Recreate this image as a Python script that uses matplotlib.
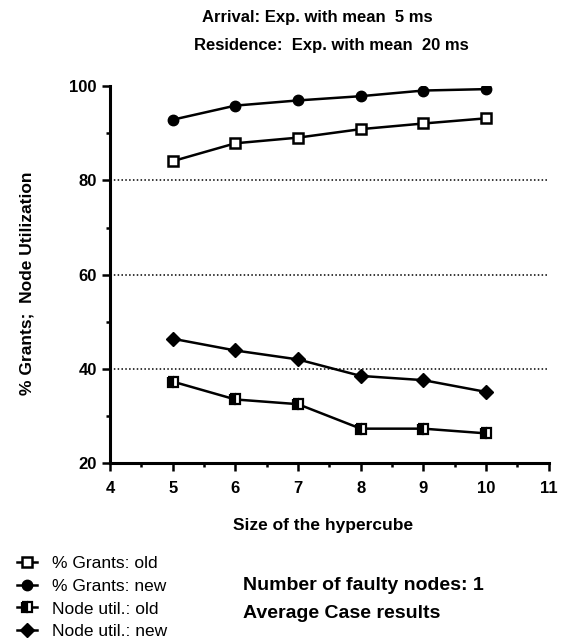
import matplotlib
matplotlib.use("Agg")
import matplotlib.pyplot as plt
from matplotlib.lines import Line2D
from matplotlib.ticker import MultipleLocator

plt.rcParams['font.family'] = ['Liberation Sans', 'DejaVu Sans']

# data
cube_size = [5, 6, 7, 8, 9, 10]
grants_old = [84.1, 87.9, 89.1, 90.9, 92.1, 93.2]
grants_new = [92.9, 95.9, 97.0, 97.9, 99.1, 99.4]
util_old = [37.3, 33.5, 32.5, 27.3, 27.3, 26.3]
util_new = [46.4, 43.9, 42.0, 38.5, 37.6, 35.1]

fig = plt.figure(figsize=(5.64, 6.44), dpi=100)
ax = fig.add_axes([0.195, 0.281, 0.778, 0.585])

lw = 1.8
ax.plot(cube_size, grants_old, color='black', lw=lw, marker='s', ms=7,
        mfc='white', mec='black', mew=1.8)
ax.plot(cube_size, grants_new, color='black', lw=lw, marker='o', ms=7.5,
        mfc='black', mec='black')
ax.plot(cube_size, util_old, color='black', lw=lw, marker='s', ms=7,
        fillstyle='left', mfc='black', mfcalt='white', mec='black', mew=1.6)
ax.plot(cube_size, util_new, color='black', lw=lw, marker='D', ms=7,
        mfc='black', mec='black')

# dotted reference lines
for g in [40, 60, 80]:
    ax.axhline(g, color='black', lw=1.1, ls=(0, (1, 1.5)), zorder=0)

ax.set_xlim(4, 11)
ax.set_ylim(20, 100)
ax.set_xticks(range(4, 12))
ax.set_yticks([20, 40, 60, 80, 100])
ax.xaxis.set_minor_locator(MultipleLocator(0.5))
ax.yaxis.set_minor_locator(MultipleLocator(10))
ax.spines['top'].set_visible(False)
ax.spines['right'].set_visible(False)
ax.spines['left'].set_linewidth(2.2)
ax.spines['bottom'].set_linewidth(2.2)
ax.tick_params(which='major', length=6, width=1.8, direction='out')
ax.tick_params(which='minor', length=3, width=1.8, direction='out')
ax.tick_params(axis='both', labelsize=12)
for lab in ax.get_xticklabels() + ax.get_yticklabels():
    lab.set_fontweight('bold')
ax.tick_params(axis='x', pad=7)

ax.set_xlabel('Size of the hypercube', fontsize=12.5, fontweight='bold')
ax.xaxis.set_label_coords(0.485, -0.145)
ax.set_ylabel('% Grants;  Node Utilization', fontsize=12.5, fontweight='bold')
ax.yaxis.set_label_coords(-0.172, 0.477)

fig.text(0.563, 0.973, 'Arrival: Exp. with mean  5 ms', ha='center', va='center',
         fontsize=12, fontweight='bold')
fig.text(0.587, 0.930, 'Residence:  Exp. with mean  20 ms', ha='center',
         va='center', fontsize=12, fontweight='bold')

handles = [
    Line2D([], [], color='black', lw=lw, marker='s', ms=7, mfc='white', mew=1.8),
    Line2D([], [], color='black', lw=lw, marker='o', ms=7.5, mfc='black'),
    Line2D([], [], color='black', lw=lw, marker='s', ms=7, fillstyle='left',
           mfc='black', mfcalt='white', mew=1.6),
    Line2D([], [], color='black', lw=lw, marker='D', ms=7, mfc='black'),
]
labels = ['% Grants: old', '% Grants: new', 'Node util.: old', 'Node util.: new']
fig.legend(handles, labels, loc='upper left', bbox_to_anchor=(0.03, 0.137),
           frameon=False, fontsize=12.5, handlelength=1.15, handletextpad=0.85,
           labelspacing=0.44, borderaxespad=0, borderpad=0)

fig.text(0.43, 0.0905, 'Number of faulty nodes: 1', ha='left', va='center',
         fontsize=14, fontweight='bold')
fig.text(0.43, 0.047, 'Average Case results', ha='left', va='center',
         fontsize=14, fontweight='bold')

fig.savefig('out.png', dpi=100)
